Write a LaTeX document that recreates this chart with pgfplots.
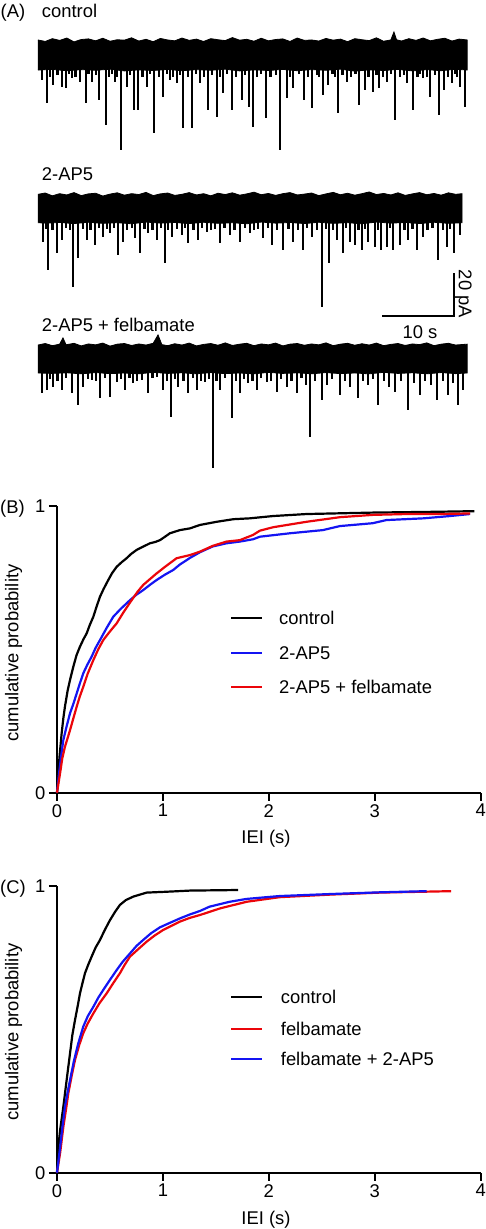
\documentclass[border=0pt]{standalone}
\usepackage{fontspec}
\setmainfont{Liberation Sans}
\usepackage{pgfplots}
\pgfplotsset{compat=1.18}
\newcommand\fs{\fontsize{18.4}{22}\selectfont}
\definecolor{cblue}{rgb}{0.08,0.08,0.95}
\definecolor{cred}{rgb}{0.92,0.02,0.04}

\pgfplotsset{
  trace/.style={hide axis, x=7.2pt, y=2.15pt, xmin=0, xmax=60, ymin=-55, ymax=15, clip=false, anchor=south west},
  cdf/.style={scale only axis, width=423.7pt, height=287pt, anchor=south west,
    xmin=0, xmax=4, ymin=0, ymax=1, clip=false,
    axis lines=left,
    axis line style={line width=2pt, -},
    every outer x axis line/.append style={-},
    every outer y axis line/.append style={-},
    xtick={0,1,2,3,4}, ytick={0,1},
    tick align=outside, major tick length=8pt,
    tick style={line width=2pt, black},
    tick label style={font=\fs},
    /pgf/number format/assume math mode=true},
  spk/.style={ycomb, black, line width=2.2pt},
  band/.style={fill=black, draw=black, line width=0.8pt},
  cur/.style={line width=2.2pt},
}

\begin{document}
\begin{tikzpicture}[font=\fs]
\path[use as bounding box] (0pt,0pt) rectangle (485pt,-1229pt);

% ---------------- Panel A ----------------
\node[anchor=base west, inner sep=0pt] at (0.5pt,-17pt) {(A)};
\node[anchor=base west, inner sep=0pt] at (41.7pt,-17pt) {control};
\node[anchor=base west, inner sep=0pt] at (41.7pt,-180.5pt) {2-AP5};
\node[anchor=base west, inner sep=0pt] at (41.7pt,-331.5pt) {2-AP5 + felbamate};

% trace 1: control (time in s, current in pA)
\begin{axis}[trace, at={(38pt,-173.25pt)}]
\addplot[band] coordinates {(0,7.0)(1,6.3)(2,7.6)(3,6.8)(4,7.9)(5,6.1)(6,7.2)(7,7.5)(8,6.6)(9,7.8)(10,6.4)(11,7.1)(12,6.9)(13,8.0)(14,6.5)(15,7.3)(16,6.2)(17,7.7)(18,7.0)(19,6.6)(20,7.9)(21,6.8)(22,7.4)(23,6.3)(24,7.6)(25,7.1)(26,6.7)(27,8.1)(28,6.9)(29,7.3)(30,6.4)(31,7.8)(32,6.6)(33,7.2)(34,7.5)(35,6.3)(36,7.9)(37,6.8)(38,7.0)(39,6.5)(40,7.7)(41,6.9)(42,7.4)(43,6.2)(44,7.6)(45,7.1)(46,6.7)(47,8.0)(48,6.4)(49,7.0)(49.44,10.7)(49.8,7.1)(50.5,6.5)(51.5,7.6)(52.5,6.8)(53.5,7.9)(54.5,6.6)(55.5,7.3)(56.5,7.8)(57.5,6.5)(58.5,7.4)(59.6,7.0)
(59.6,-7.0)(58,-6.6)(56,-7.3)(54,-6.8)(52,-7.4)(50,-6.7)(48,-7.2)(46,-6.9)(44,-7.5)(42,-6.6)(40,-7.1)(38,-6.8)(36,-7.3)(34,-6.7)(32,-7.2)(30,-6.9)(28,-7.4)(26,-6.6)(24,-7.1)(22,-6.8)(20,-7.3)(18,-6.7)(16,-7.2)(14,-6.9)(12,-7.4)(10,-6.6)(8,-7.1)(6,-6.8)(4,-7.3)(2,-6.7)(0,-7.0)};
\addplot[spk] coordinates {(0.51,-11.6)(1.21,-22.3)(1.7,-10)(2.08,-14.0)(2.7,-9.5)(3.29,-14.9)(3.85,-15.3)(4.3,-9)(4.68,-10.7)(5.2,-10)(5.83,-12.6)(6.67,-22.3)(7.0,-9)(7.46,-12.6)(8.0,-9.5)(8.51,-20.9)(9.44,-32.6)(9.9,-10)(10.3,-9)(10.69,-12.6)(11.0,-10)(11.53,-44.2)(12.32,-14.9)(12.8,-9.5)(13.33,-25.6)(13.93,-25.6)(14.5,-10)(15.10,-14.9)(15.6,-9)(16.11,-36.3)(16.8,-10)(17.40,-19.5)(17.9,-9)(18.33,-11.6)(18.8,-10)(19.26,-13.0)(19.7,-9.5)(20.18,-34.0)(20.8,-10)(21.35,-34.0)(21.9,-9)(22.50,-13.0)(23.0,-10)(23.65,-25.6)(24.2,-9.5)(24.82,-28.8)(25.3,-10)(25.74,-17.7)(26.3,-9)(26.90,-25.6)(27.5,-10)(28.29,-20.9)(28.8,-9.5)(29.35,-24.2)(29.90,-33.5)(30.4,-10)(31.0,-9)(31.67,-29.3)(32.3,-10)(33.0,-9.5)(33.61,-44.2)(34.54,-20.0)(35.0,-10)(35.46,-15.3)(36.2,-9)(36.99,-20.9)(37.5,-10)(38.01,-24.7)(38.7,-9.5)(39.0,-10)(39.54,-18.6)(40.32,-14.0)(40.9,-9)(41.2,-10)(41.63,-27.0)(42.3,-9.5)(42.88,-12.6)(43.5,-10)(44.1,-9)(44.63,-23.3)(45.42,-16.3)(45.9,-10)(46.49,-17.2)(47.0,-9.5)(47.40,-15.3)(47.9,-10)(48.43,-12.6)(49.0,-9)(49.58,-30.2)(50.3,-10)(50.8,-9.5)(51.21,-13.0)(52.04,-25.6)(52.7,-10)(53.0,-9)(53.51,-10.7)(54.0,-10)(54.44,-19.5)(55.1,-9.5)(55.74,-27.9)(56.39,-16.3)(56.9,-10)(57.46,-13.0)(57.9,-9)(58.2,-10)(58.61,-14.9)(59.31,-24.2)};
\end{axis}

% trace 2: 2-AP5
\begin{axis}[trace, at={(38pt,-326.75pt)}]
\addplot[band] coordinates {(0,6.6)(1,7.2)(2,5.9)(3,6.9)(4,6.3)(5,7.4)(6,6.0)(7,6.8)(8,7.1)(9,5.8)(10,6.7)(11,7.3)(12,6.2)(13,6.9)(14,6.5)(15,7.5)(16,6.0)(17,6.8)(18,7.2)(19,6.1)(20,6.6)(21,7.4)(22,6.3)(23,6.9)(24,5.9)(25,7.1)(26,6.5)(27,7.3)(28,6.2)(29,6.8)(30,7.6)(31,6.4)(32,7.0)(33,6.1)(34,6.9)(35,7.4)(36,6.3)(37,6.7)(38,7.2)(39,6.0)(40,6.8)(41,7.5)(42,6.4)(43,7.1)(44,6.2)(45,6.9)(46,7.7)(47,6.5)(48,7.0)(49,6.3)(50,7.3)(51,6.1)(52,6.8)(53,7.4)(54,6.4)(55,7.0)(56,6.2)(57,7.3)(58,6.6)(58.9,6.9)
(58.9,-6.6)(57,-6.9)(55,-6.4)(53,-7.0)(51,-6.5)(49,-6.8)(47,-6.3)(45,-7.1)(43,-6.6)(41,-6.9)(39,-6.4)(37,-7.0)(35,-6.5)(33,-6.8)(31,-6.3)(29,-7.1)(27,-6.6)(25,-6.9)(23,-6.4)(21,-7.0)(19,-6.5)(17,-6.8)(15,-6.3)(13,-7.1)(11,-6.6)(9,-6.9)(7,-6.4)(5,-7.0)(3,-6.5)(1,-6.8)(0,-6.6)};
\addplot[spk] coordinates {(0.74,-15.4)(1.1,-9.5)(1.43,-28.6)(2.0,-10)(2.60,-20.7)(3.29,-14.7)(3.9,-9)(4.4,-10)(4.90,-36.4)(5.60,-23.0)(6.2,-9.5)(6.76,-14.7)(7.3,-10)(7.92,-17.0)(8.5,-9)(9.07,-13.1)(9.6,-9.5)(10.0,-11.4)(10.6,-9)(11.15,-21.6)(11.85,-15.4)(12.4,-10)(13.0,-9)(13.47,-13.7)(14.17,-20.7)(14.8,-9.5)(15.32,-11.4)(15.9,-10)(16.49,-14.7)(17.1,-9)(17.64,-25.3)(18.1,-10)(18.57,-13.1)(19.3,-9.5)(19.96,-12.3)(20.4,-9)(20.88,-16.0)(21.6,-10)(22.26,-14.7)(22.8,-9)(23.43,-10.8)(24.0,-10)(24.6,-9.5)(25.28,-16.0)(25.9,-9)(26.67,-12.3)(27.3,-10)(28.06,-15.4)(28.7,-9)(29.44,-11.4)(30.0,-10)(30.6,-9.5)(31.29,-13.7)(31.9,-9)(32.46,-17.0)(33.2,-10)(34.07,-19.3)(34.8,-9.5)(35.46,-15.4)(36.1,-10)(36.85,-19.3)(37.4,-9)(38.01,-13.1)(38.7,-10)(39.40,-45.7)(40.0,-9.5)(40.46,-25.5)(41.0,-10)(41.49,-14.7)(42.32,-20.7)(42.8,-9)(43.33,-15.4)(44.03,-17.0)(44.5,-10)(44.96,-19.3)(45.4,-9.5)(45.88,-15.4)(46.81,-17.8)(47.2,-10)(47.64,-19.3)(48.43,-17.8)(48.9,-9)(49.35,-19.3)(50.28,-17.0)(50.9,-10)(51.43,-14.7)(52.0,-9.5)(52.60,-19.3)(53.51,-13.1)(54.1,-10)(54.8,-9)(55.60,-24.0)(56.2,-10)(56.76,-17.8)(57.2,-9.5)(57.78,-20.8)(58.61,-12.3)};
% scale bar: 10 s, 20 pA
\draw[line width=2pt] (axis cs:47.78,-50) -- (axis cs:57.78,-50) -- (axis cs:57.78,-30);
\end{axis}
\node[anchor=center, inner sep=0pt] at (420pt,-332pt) {10 s};
\node[rotate=-90, anchor=center, inner sep=0pt] at (463.5pt,-294pt) {20 pA};

% trace 3: 2-AP5 + felbamate
\begin{axis}[trace, at={(38pt,-477.25pt)}]
\addplot[band] coordinates {(0,6.5)(1,7.2)(2,6.2)(3,6.9)(3.47,9.8)(3.9,6.6)(5,7.3)(6,6.1)(7,7.0)(8,6.6)(9,7.4)(10,6.0)(11,6.9)(12,7.2)(13,6.3)(14,7.0)(15,6.5)(16,7.3)(16.67,11.2)(17.2,6.7)(18,6.2)(19,7.1)(20,6.5)(21,7.4)(22,6.1)(23,6.8)(24,7.2)(25,6.4)(26,7.5)(27,6.3)(28,6.9)(29,7.3)(30,6.2)(31,7.0)(32,6.6)(33,7.4)(34,6.1)(35,6.9)(36,7.2)(37,6.4)(38,7.0)(39,6.6)(40,7.5)(41,6.2)(42,6.9)(43,7.3)(44,6.4)(45,7.1)(46,6.5)(47,7.4)(48,6.2)(49,6.8)(50,7.2)(51,6.3)(52,7.0)(53,6.7)(54,7.5)(55,6.2)(56,6.9)(57,7.3)(58,6.5)(59.6,6.9)
(59.6,-6.5)(58,-6.8)(56,-6.3)(54,-6.9)(52,-6.4)(50,-6.7)(48,-6.2)(46,-6.9)(44,-6.5)(42,-6.8)(40,-6.3)(38,-6.9)(36,-6.4)(34,-6.7)(32,-6.2)(30,-6.9)(28,-6.5)(26,-6.8)(24,-6.3)(22,-6.9)(20,-6.4)(18,-6.7)(16,-6.2)(14,-6.9)(12,-6.5)(10,-6.8)(8,-6.3)(6,-6.9)(4,-6.4)(2,-6.7)(0,-6.5)};
\addplot[spk] coordinates {(0.51,-15.8)(1.21,-14.4)(1.7,-9.5)(2.13,-13.0)(2.7,-10)(3.29,-14.4)(3.9,-9)(4.68,-15.8)(5.60,-21.4)(6.29,-13.0)(6.9,-9.5)(7.46,-9.8)(8.0,-10)(8.61,-18.1)(9.3,-9)(10.0,-17.7)(10.93,-10.7)(11.5,-9.5)(12.08,-14.4)(12.7,-9)(13.24,-11.2)(13.8,-10)(14.40,-9.8)(15.32,-15.8)(15.9,-9)(16.49,-8.4)(17.40,-14.4)(17.9,-10)(18.43,-27.0)(19.0,-9.5)(19.49,-13.0)(20.2,-10)(20.88,-15.8)(21.5,-9)(22.04,-14.4)(22.6,-10)(23.19,-10.7)(23.7,-9.5)(24.26,-50.7)(24.8,-10)(25.28,-14.4)(26.0,-9)(26.90,-27.4)(27.5,-10)(28.06,-15.8)(28.6,-9.5)(29.21,-11.2)(29.8,-10)(30.38,-14.4)(31.0,-9)(31.76,-10.7)(32.4,-10)(33.15,-15.3)(33.8,-9.5)(34.54,-13.0)(35.2,-10)(35.93,-15.8)(36.6,-9)(37.2,-12)(37.78,-36.3)(38.5,-10)(39.44,-19.1)(40.1,-12)(40.8,-9.5)(41.94,-16.7)(42.6,-10)(43.3,-13)(44.44,-18.1)(45.1,-10)(45.8,-12)(46.5,-9.5)(47.22,-21.4)(48.0,-10)(48.7,-13)(49.58,-15.3)(50.4,-10)(51.39,-23.7)(52.2,-11)(53.06,-16.7)(53.8,-10)(54.6,-12)(55.42,-19.1)(56.2,-10)(56.94,-16.7)(57.6,-11)(58.33,-21.4)(59.03,-14.4)};
\end{axis}

% ---------------- Panel B ----------------
\node[anchor=base west, inner sep=0pt] at (0pt,-513.5pt) {(B)};
\node[rotate=90, anchor=center, inner sep=0pt] at (13.5pt,-653pt) {cumulative probability};
\node[anchor=base, inner sep=0pt] at (266pt,-843pt) {IEI (s)};
\begin{axis}[cdf, at={(57pt,-792.7pt)}]
\addplot[black, cur] coordinates {(0,0)(0.01,0.06)(0.025,0.13)(0.044,0.207)(0.06,0.26)(0.075,0.30)(0.10,0.355)(0.123,0.393)(0.154,0.439)(0.185,0.48)(0.217,0.509)(0.25,0.535)(0.28,0.555)(0.31,0.585)(0.343,0.613)(0.375,0.65)(0.406,0.683)(0.44,0.71)(0.484,0.741)(0.52,0.765)(0.563,0.787)(0.61,0.803)(0.657,0.817)(0.70,0.832)(0.752,0.846)(0.80,0.855)(0.877,0.869)(0.93,0.874)(0.972,0.880)(1.02,0.892)(1.066,0.904)(1.16,0.915)(1.255,0.921)(1.35,0.933)(1.508,0.944)(1.665,0.953)(1.82,0.956)(2.04,0.964)(2.356,0.971)(2.98,0.976)(3.61,0.979)(3.94,0.981)};
\addplot[cblue, cur] coordinates {(0,0)(0.02,0.07)(0.04,0.13)(0.06,0.184)(0.09,0.23)(0.123,0.277)(0.155,0.31)(0.186,0.346)(0.215,0.38)(0.248,0.416)(0.285,0.445)(0.327,0.474)(0.365,0.505)(0.406,0.532)(0.47,0.575)(0.531,0.613)(0.60,0.64)(0.689,0.671)(0.75,0.69)(0.814,0.706)(0.88,0.725)(0.94,0.741)(1.02,0.76)(1.097,0.776)(1.16,0.795)(1.255,0.818)(1.35,0.838)(1.47,0.858)(1.6,0.869)(1.726,0.875)(1.85,0.883)(1.915,0.892)(2.2,0.904)(2.51,0.915)(2.67,0.929)(2.98,0.939)(3.11,0.950)(3.46,0.956)(3.71,0.964)(3.90,0.971)};
\addplot[cred, cur] coordinates {(0,0)(0.03,0.07)(0.05,0.12)(0.075,0.16)(0.10,0.19)(0.123,0.218)(0.155,0.26)(0.186,0.300)(0.215,0.335)(0.248,0.369)(0.29,0.415)(0.343,0.462)(0.39,0.50)(0.437,0.532)(0.50,0.562)(0.563,0.590)(0.63,0.63)(0.705,0.671)(0.76,0.70)(0.814,0.724)(0.88,0.745)(0.94,0.764)(1.03,0.79)(1.129,0.817)(1.255,0.828)(1.35,0.84)(1.47,0.86)(1.6,0.875)(1.726,0.880)(1.85,0.898)(1.915,0.913)(2.04,0.925)(2.356,0.944)(2.67,0.96)(2.98,0.968)(3.30,0.971)(3.61,0.971)(3.90,0.973)};
\end{axis}
\draw[black, line width=2pt] (231pt,-618pt) -- (262pt,-618pt);
\draw[cblue, line width=2pt] (231pt,-653pt) -- (262pt,-653pt);
\draw[cred, line width=2pt] (231pt,-686.7pt) -- (262pt,-686.7pt);
\node[anchor=base west, inner sep=0pt] at (279pt,-624.6pt) {control};
\node[anchor=base west, inner sep=0pt] at (279pt,-659.6pt) {2-AP5};
\node[anchor=base west, inner sep=0pt] at (279pt,-693.3pt) {2-AP5 + felbamate};

% ---------------- Panel C ----------------
\node[anchor=base west, inner sep=0pt] at (0pt,-893.5pt) {(C)};
\node[rotate=90, anchor=center, inner sep=0pt] at (13.5pt,-1032pt) {cumulative probability};
\node[anchor=base, inner sep=0pt] at (266pt,-1224pt) {IEI (s)};
\begin{axis}[cdf, at={(57pt,-1172.7pt)}]
\addplot[black, cur] coordinates {(0,0)(0.01,0.08)(0.03,0.15)(0.045,0.19)(0.06,0.23)(0.091,0.323)(0.123,0.416)(0.145,0.48)(0.17,0.532)(0.195,0.58)(0.217,0.625)(0.24,0.66)(0.264,0.695)(0.295,0.725)(0.327,0.753)(0.365,0.785)(0.406,0.811)(0.45,0.845)(0.5,0.880)(0.55,0.91)(0.594,0.933)(0.65,0.95)(0.72,0.962)(0.846,0.976)(1.035,0.979)(1.255,0.983)(1.71,0.985)};
\addplot[cred, cur] coordinates {(0,0)(0.03,0.07)(0.06,0.16)(0.085,0.22)(0.107,0.277)(0.14,0.34)(0.170,0.393)(0.21,0.445)(0.248,0.486)(0.29,0.52)(0.343,0.555)(0.40,0.59)(0.469,0.625)(0.53,0.66)(0.594,0.695)(0.64,0.725)(0.689,0.753)(0.77,0.78)(0.846,0.805)(0.92,0.826)(1.003,0.846)(1.08,0.86)(1.16,0.875)(1.255,0.888)(1.35,0.898)(1.54,0.921)(1.79,0.944)(2.10,0.960)(2.58,0.969)(3.05,0.976)(3.72,0.981)};
\addplot[cblue, cur] coordinates {(0,0)(0.02,0.06)(0.044,0.137)(0.06,0.185)(0.075,0.230)(0.10,0.28)(0.123,0.323)(0.16,0.39)(0.201,0.451)(0.248,0.509)(0.29,0.545)(0.343,0.578)(0.39,0.61)(0.437,0.637)(0.50,0.672)(0.563,0.706)(0.62,0.735)(0.689,0.764)(0.75,0.79)(0.814,0.811)(0.89,0.835)(0.972,0.855)(1.05,0.868)(1.16,0.886)(1.255,0.90)(1.35,0.912)(1.44,0.927)(1.63,0.944)(1.79,0.954)(2.10,0.964)(2.58,0.971)(3.05,0.977)(3.49,0.981)};
\end{axis}
\draw[black, line width=2pt] (231pt,-996.7pt) -- (262pt,-996.7pt);
\draw[cred, line width=2pt] (231pt,-1029pt) -- (262pt,-1029pt);
\draw[cblue, line width=2pt] (231pt,-1059pt) -- (262pt,-1059pt);
\node[anchor=base west, inner sep=0pt] at (280.7pt,-1003.3pt) {control};
\node[anchor=base west, inner sep=0pt] at (280.7pt,-1035.6pt) {felbamate};
\node[anchor=base west, inner sep=0pt] at (280.7pt,-1065.6pt) {felbamate + 2-AP5};
\end{tikzpicture}
\end{document}
